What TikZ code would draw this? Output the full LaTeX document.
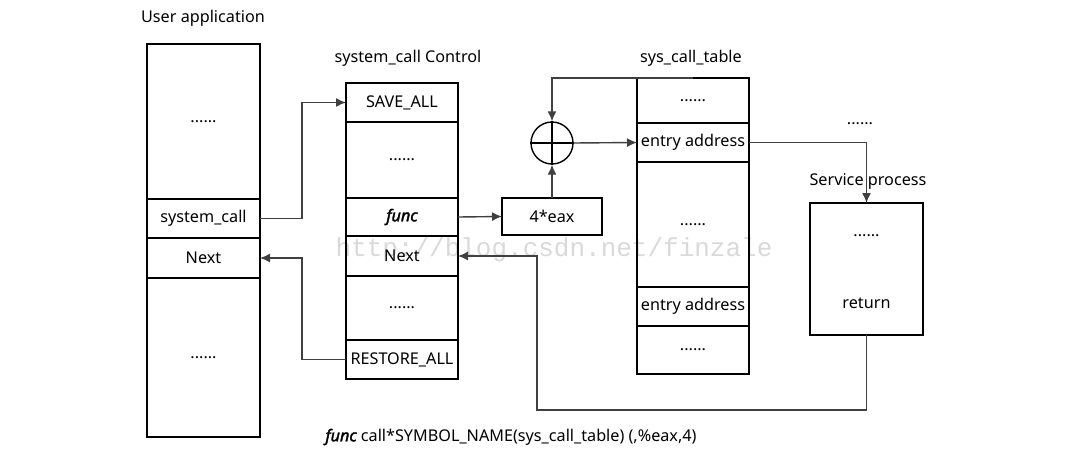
\documentclass[tikz,border=0pt]{standalone}
\usepackage{fontspec}
\setmainfont{Noto Sans}
\newfontfamily\wmfont{Liberation Mono}
\newcommand{\fn}{{\itshape\addfontfeature{FakeBold=2}func}}
\usetikzlibrary{positioning,arrows.meta}

\begin{document}
\begin{tikzpicture}[x=1pt,y=-1pt,>={Latex[length=10pt,width=9pt]},
  font=\fontsize{16.2}{19}\selectfont,
  cell/.style={draw,line width=1.4pt,outer sep=0pt,inner sep=0pt,minimum width=113pt},
  title node/.style={inner sep=0pt},
  link/.style={->,line width=1.4pt,draw=black!75}]

  \useasboundingbox (0,0) rectangle (1075,458);

  % watermark
  \node[text=black!15,font=\wmfont\fontsize{26}{28}\selectfont] (wm) at (554,250) {http://blog.csdn.net/finzale};

  % user application
  \node[title node] (uat) at (203,18) {User application};
  \node[cell,minimum height=155pt] (ua1) at (203.5,121.5) {......};
  \node[cell,minimum height=39pt,below=0pt of ua1] (ua2) {system\_call};
  \node[cell,minimum height=40pt,below=0pt of ua2] (ua3) {Next};
  \node[cell,minimum height=159pt,below=0pt of ua3] (ua4) {......};

  % system_call control
  \node[title node] (cnt) at (408,58) {system\_call Control};
  \node[cell,minimum width=112pt,minimum height=39pt] (cn1) at (402,102.5) {SAVE\_ALL};
  \node[cell,minimum width=112pt,minimum height=76pt,below=0pt of cn1] (cn2) {......};
  \node[cell,minimum width=112pt,minimum height=38pt,below=0pt of cn2] (cn3) {\fn};
  \node[cell,minimum width=112pt,minimum height=40pt,below=0pt of cn3] (cn4) {Next};
  \node[cell,minimum width=112pt,minimum height=64pt,below=0pt of cn4] (cn5) {......};
  \node[cell,minimum width=112pt,minimum height=39pt,below=0pt of cn5] (cn6) {RESTORE\_ALL};

  % offset and adder
  \node[cell,minimum width=100pt,minimum height=37pt] (eax) at (552,216.5) {4*eax};
  \node[draw,circle,line width=1.4pt,minimum size=42pt,inner sep=0pt] (plus) at (552,143) {};
  \draw[line width=1.4pt] (plus.north) -- (plus.south) (plus.west) -- (plus.east);

  % sys_call_table
  \node[title node] (stt) at (691,58) {sys\_call\_table};
  \node[cell,minimum width=112pt,minimum height=45pt] (st1) at (693,100.5) {......};
  \node[cell,minimum width=112pt,minimum height=39pt,below=0pt of st1] (st2) {entry address};
  \node[cell,minimum width=112pt,minimum height=125pt,below=0pt of st2] (st3) {......};
  \node[cell,minimum width=112pt,minimum height=39pt,below=0pt of st3] (st4) {entry address};
  \node[cell,minimum width=112pt,minimum height=48pt,below=0pt of st4] (st5) {......};

  % service process
  \node[title node] (more) at (860,124) {......};
  \node[title node] (spt) at (868,181) {Service process};
  \node[cell,minimum height=132pt] (sp) at (866.5,269) {};
  \node[title node] (spdots) at (866.5,236) {......};
  \node[title node] (spret) at (866.5,303) {return};

  \node[title node] (note) at (511,437) {\fn{} call*SYMBOL\_NAME(sys\_call\_table) (,\%eax,4)};

  \coordinate (back) at (537,410);

  \draw[link] (ua2.east) -- ++(42,0) |- (cn1.west);
  \draw[link] (cn6.west) -- ++(-44,0) |- (ua3.east);
  \draw[link] (cn3.east) -- (eax.west);
  \draw[link] (eax.north) -- (plus.south);
  \draw[link] (st1.north) -| (plus.north);
  \draw[link] (plus.east) -- (st2.west);
  \draw[link] (st2.east) -| (sp.north);
  \draw[link] (sp.south) |- (back) |- (cn4.east);
\end{tikzpicture}
\end{document}
